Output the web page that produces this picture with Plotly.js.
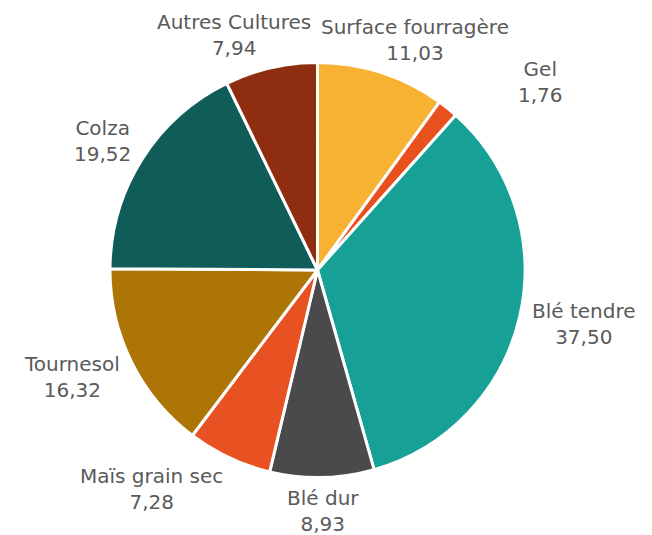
<!DOCTYPE html>
<html><head><meta charset="utf-8">
<script src="https://cdn.plot.ly/plotly-3.0.1.min.js"></script>
<style>html,body{margin:0;padding:0;background:#fff}#chart{width:652px;height:535px}</style>
</head><body><div id="chart"></div>
<script>
const labels = ["Surface fourragère","Gel","Blé tendre","Blé dur","Maïs grain sec","Tournesol","Colza","Autres Cultures"];
const values = [11.03,1.76,37.50,8.93,7.28,16.32,19.52,7.94];
const colors = ["#F7B233","#E8501E","#17A096","#4A4A4C","#E85122","#AD7406","#0F5C58","#8E2D10"];
const valueTexts = values.map(v => v.toFixed(2).replace(".", ","));

const W = 652, H = 535;
const domX = [0.1687, 0.8052], domY = [0.1075, 0.8832];
const fontSize = 20, fontFamily = "DejaVu Sans";
const textColor = "#5a5a5a";

// pie geometry derived from the domain
const cx = (domX[0] + domX[1]) / 2 * W;
const cy = (1 - (domY[0] + domY[1]) / 2) * H;
const r = Math.min((domX[1] - domX[0]) * W, (domY[1] - domY[0]) * H) / 2;
const Rl = r + 13;
const lineH = fontSize * 1.3 * 2;
const halfOff = 21;
const gap = 10;

const ctx = document.createElement("canvas").getContext("2d");
ctx.font = fontSize + "px '" + fontFamily + "'";
const total = values.reduce((a, b) => a + b, 0);
let cum = 0;
const boxes = [];
const annotations = values.map((v, i) => {
  const mid = (cum + v / 2) / total * 2 * Math.PI;
  cum += v;
  const s = Math.sin(mid), c = Math.cos(mid);
  const px = cx + Rl * s, py = cy - Rl * c;
  const w = Math.max(ctx.measureText(labels[i]).width, ctx.measureText(valueTexts[i]).width);
  const fx = Math.abs(s) < 0.4 ? s : Math.sign(s);
  let x = px + w / 2 * fx;
  const y = py - halfOff * c;
  // push horizontally outward if it overlaps an earlier label
  for (const b of boxes) {
    const ovY = Math.abs(y - b.y) < (lineH + b.h) / 2 - 2;
    const ovX = Math.abs(x - b.x) < (w + b.w) / 2;
    if (ovY && ovX) {
      x = s >= 0 ? b.x + (b.w + w) / 2 + gap : b.x - (b.w + w) / 2 - gap;
    }
  }
  boxes.push({x: x, y: y, w: w, h: lineH});
  return {
    x: x / W, y: 1 - y / H, xref: "paper", yref: "paper",
    xanchor: "center", yanchor: "middle", align: "center",
    text: labels[i] + "<br>" + valueTexts[i], showarrow: false,
    font: {family: fontFamily + ", sans-serif", size: fontSize, color: textColor}
  };
});

Plotly.newPlot("chart", [{
  type: "pie",
  labels: labels,
  values: values,
  textinfo: "none",
  sort: false,
  direction: "clockwise",
  rotation: 0,
  marker: {colors: colors, line: {color: "#ffffff", width: 3}},
  domain: {x: domX, y: domY},
  showlegend: false
}], {
  width: W, height: H,
  margin: {l: 0, r: 0, t: 0, b: 0},
  paper_bgcolor: "#ffffff",
  showlegend: false,
  annotations: annotations
}, {displayModeBar: false});
</script></body></html>
